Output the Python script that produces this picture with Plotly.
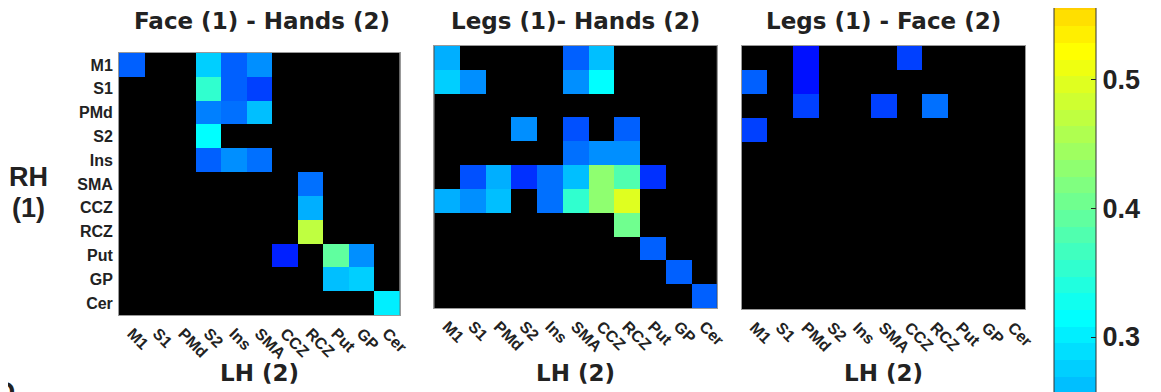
import plotly.graph_objects as go
import numpy as np

regions = ["M1", "S1", "PMd", "S2", "Ins", "SMA", "CCZ", "RCZ", "Put", "GP", "Cer"]
titles = ["Face (1) - Hands (2)", "Legs (1)- Hands (2)", "Legs (1) - Face (2)"]
N = None

face_hands = [
    [0.179, N, N, 0.276, 0.185, 0.219, N, N, N, N, N],
    [N, N, N, 0.354, 0.179, 0.163, N, N, N, N, N],
    [N, N, N, 0.212, 0.195, 0.268, N, N, N, N, N],
    [N, N, N, 0.321, N, N, N, N, N, N, N],
    [N, N, N, 0.187, 0.219, 0.203, N, N, N, N, N],
    [N, N, N, N, N, N, N, 0.195, N, N, N],
    [N, N, N, N, N, N, N, 0.252, N, N, N],
    [N, N, N, N, N, N, N, 0.476, N, N, N],
    [N, N, N, N, N, N, 0.130, N, 0.394, 0.219, N],
    [N, N, N, N, N, N, N, N, 0.260, 0.276, N],
    [N, N, N, N, N, N, N, N, N, N, 0.297],
]

legs_hands = [
    [0.252, N, N, N, N, 0.187, 0.268, N, N, N, N],
    [0.276, 0.228, N, N, N, 0.228, 0.321, N, N, N, N],
    [N, N, N, N, N, N, N, N, N, N, N],
    [N, N, N, 0.228, N, 0.171, N, 0.179, N, N, N],
    [N, N, N, N, N, 0.195, 0.228, 0.219, N, N, N],
    [N, 0.171, 0.244, 0.146, 0.203, 0.268, 0.435, 0.386, 0.146, N, N],
    [0.252, 0.228, 0.260, N, 0.203, 0.354, 0.435, 0.492, N, N, N],
    [N, N, N, N, N, N, N, 0.411, N, N, N],
    [N, N, N, N, N, N, N, N, 0.179, N, N],
    [N, N, N, N, N, N, N, N, N, 0.179, N],
    [N, N, N, N, N, N, N, N, N, N, 0.179],
]

legs_face = [
    [N, N, 0.114, N, N, N, 0.163, N, N, N, N],
    [0.187, N, 0.114, N, N, N, N, N, N, N, N],
    [N, N, 0.163, N, N, 0.155, N, 0.203, N, N, N],
    [0.163, N, N, N, N, N, N, N, N, N, N],
    [N, N, N, N, N, N, N, N, N, N, N],
    [N, N, N, N, N, N, N, N, N, N, N],
    [N, N, N, N, N, N, N, N, N, N, N],
    [N, N, N, N, N, N, N, N, N, N, N],
    [N, N, N, N, N, N, N, N, N, N, N],
    [N, N, N, N, N, N, N, N, N, N, N],
    [N, N, N, N, N, N, N, N, N, N, N],
]

cbar_ticks = [0.3, 0.4, 0.5]
cmin, cmax = 0.01, 0.84

# MATLAB-style jet(64) colormap as a stepped colorscale
def jet64(m=64):
    n = int(np.ceil(m / 4))
    u = np.concatenate([np.arange(1, n + 1) / n, np.ones(n - 1), np.arange(n, 0, -1) / n])
    g = int(np.ceil(n / 2)) - (1 if m % 4 == 1 else 0) + np.arange(1, len(u) + 1)
    r = g + n
    b = g - n
    J = np.zeros((m, 3))
    gm = g <= m
    J[g[gm] - 1, 1] = u[gm]
    rm = r <= m
    J[r[rm] - 1, 0] = u[: rm.sum()]
    bm = b >= 1
    J[b[bm] - 1, 2] = u[len(u) - bm.sum():]
    return J

J = jet64()
cs = []
for i, c in enumerate(J):
    col = "rgb(%d,%d,%d)" % tuple((c * 255).round().astype(int))
    cs.append([i / 64, col])
    cs.append([(i + 1) / 64, col])

W, H = 1161, 392
OFF = 8  # page body margin offset
def PX(x):
    return (x - OFF) / W
def PY(y):
    return 1 - (y - OFF) / H

FONT = "Liberation Sans, Arial, sans-serif"
WIDE = "DejaVu Sans, Liberation Sans, sans-serif"
INK = "#222"

# panel frames in pixels (left, right, top, bottom)
frames = [(120, 403, 53, 315), (438, 723, 46, 308), (748, 1034, 46, 309)]
title_dx = [3, 0, 0]

fig = go.Figure()
mats = [face_hands, legs_hands, legs_face]
for k, (m, fr) in enumerate(zip(mats, frames)):
    xa = "x" if k == 0 else "x%d" % (k + 1)
    ya = "y" if k == 0 else "y%d" % (k + 1)
    tr = dict(
        z=m, x=regions, y=regions, colorscale=cs, zmin=cmin, zmax=cmax,
        xaxis=xa, yaxis=ya, showscale=(k == 0), hoverongaps=False,
    )
    if k == 0:
        # bar spans pixels -357 .. 710 (only the middle is visible)
        bar_len = 1066.6
        center_px = (-357 + 709.7) / 2
        tr["colorbar"] = dict(
            thicknessmode="pixels", thickness=42, lenmode="pixels", len=bar_len,
            x=PX(1063), xanchor="left", xpad=0, y=PY(center_px), yanchor="middle", ypad=0,
            outlinecolor="#333", outlinewidth=1,
            tickvals=cbar_ticks, ticktext=["%.1f" % t for t in cbar_ticks],
            ticks="inside", ticklen=5, tickcolor="#222",
            tickfont=dict(family=FONT, size=27, color=INK, weight="bold"),
        )
    fig.add_trace(go.Heatmap(**tr))
    l, r, t, b = fr
    xkey = "xaxis" if k == 0 else "xaxis%d" % (k + 1)
    ykey = "yaxis" if k == 0 else "yaxis%d" % (k + 1)
    fig.update_layout(**{
        xkey: dict(domain=[PX(l), PX(r)], anchor=ya, tickangle=45, showgrid=False, zeroline=False,
                   ticks="outside", ticklen=2, tickcolor="rgba(0,0,0,0)",
                   tickfont=dict(family=FONT, size=16, color=INK, weight="bold"),
                   showline=True, mirror=True, linecolor="#999", linewidth=1,
                   range=[-0.5, 10.5], fixedrange=True),
        ykey: dict(domain=[PY(b), PY(t)], anchor=xa, autorange="reversed", showgrid=False,
                   zeroline=False, showticklabels=(k == 0),
                   ticks="outside", ticklen=2, tickcolor="rgba(0,0,0,0)",
                   tickfont=dict(family=FONT, size=16, color=INK, weight="bold"),
                   showline=True, mirror=True, linecolor="#999", linewidth=1, fixedrange=True),
    })
    cx = PX((l + r) / 2 + title_dx[k])
    fig.add_annotation(text=titles[k], x=cx, y=PY(21), xref="paper", yref="paper",
                       xanchor="center", yanchor="middle", showarrow=False,
                       font=dict(family=WIDE, size=23, color=INK, weight="bold"))
    fig.add_annotation(text="LH (2)", x=PX((l + r) / 2), y=PY(373), xref="paper", yref="paper",
                       xanchor="center", yanchor="middle", showarrow=False,
                       font=dict(family=WIDE, size=23, color=INK, weight="bold"))

fig.add_annotation(text="RH", x=PX(29), y=PY(177), xref="paper", yref="paper",
                   xanchor="center", yanchor="middle", showarrow=False,
                   font=dict(family=FONT, size=27, color=INK, weight="bold"))
fig.add_annotation(text="(1)", x=PX(29), y=PY(208), xref="paper", yref="paper",
                   xanchor="center", yanchor="middle", showarrow=False,
                   font=dict(family=FONT, size=27, color=INK, weight="bold"))
fig.add_annotation(text="D", x=PX(17), y=PY(374), xref="paper", yref="paper",
                   xanchor="right", yanchor="top", showarrow=False,
                   font=dict(family=FONT, size=28, color=INK, weight="bold"))

fig.update_layout(
    width=W, height=H, margin=dict(l=0, r=0, t=0, b=0),
    paper_bgcolor="white", plot_bgcolor="black", showlegend=False,
)
fig.write_html("out.html")
